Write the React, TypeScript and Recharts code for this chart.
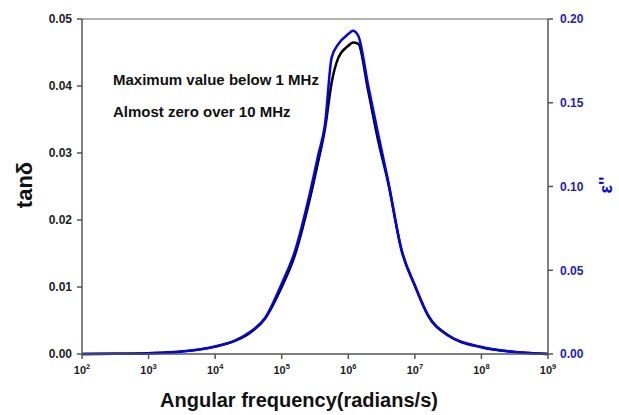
import { LineChart, Line, XAxis, YAxis, ReferenceLine } from "recharts";

// log10 of angular frequency (rad/s)
const logFreq = [
  2, 2.5, 3, 3.5, 4, 4.3, 4.5, 4.75, 5, 5.2, 5.4, 5.55, 5.65, 5.75, 5.85, 6,
  6.07, 6.15, 6.3, 6.45, 6.6, 6.8, 7, 7.2, 7.5, 8, 8.5, 9,
];
const tanDelta = [
  0, 0.00003, 0.00013, 0.00038, 0.0011, 0.002, 0.003, 0.0053, 0.01, 0.0148,
  0.0222, 0.0288, 0.0336, 0.0405, 0.0442, 0.046, 0.0465, 0.0463, 0.0392,
  0.0318, 0.0255, 0.0155, 0.0102, 0.0057, 0.0028, 0.001, 0.0003, 0,
];
const epsLoss = [
  0, 0.0001, 0.0005, 0.0015, 0.0045, 0.008, 0.0125, 0.0215, 0.042, 0.0615,
  0.092, 0.119, 0.137, 0.177, 0.185, 0.191, 0.193, 0.19, 0.16, 0.131, 0.103,
  0.062, 0.041, 0.023, 0.011, 0.0042, 0.0012, 0,
];
const xTicks = [2, 3, 4, 5, 6, 7, 8, 9].map((n) => Math.pow(10, n));
const leftTicks = [0, 0.01, 0.02, 0.03, 0.04, 0.05];
const rightTicks = [0, 0.05, 0.1, 0.15, 0.2];

const data = logFreq.map((l, i) => ({
  w: Math.pow(10, l),
  tan: tanDelta[i],
  eps: epsLoss[i],
}));

const FONT = "Arial, 'Liberation Sans', sans-serif";
const AXIS = "#555";
const BLUE = "#0000ff";

const PowerTick = ({ x, y, payload }: any) => {
  const n = Math.round(Math.log10(payload.value));
  return (
    <text x={x} y={y} dy={13} textAnchor="middle" fontFamily={FONT} fontWeight="bold" fontSize={11} fill="#222">
      <tspan>10</tspan>
      <tspan dy={-5} fontSize={7.5}>{n}</tspan>
    </text>
  );
};

export default function App() {
  return (
    <div style={{ position: "absolute", left: 0, top: 0, width: 619, height: 415, background: "#fff", fontFamily: FONT }}>
      <LineChart width={619} height={415} data={data} margin={{ top: 19, right: 0, bottom: 0, left: 0 }}>
        <XAxis
          dataKey="w"
          type="number"
          scale="log"
          domain={[100, 1e9]}
          ticks={xTicks}
          interval={0}
          allowDataOverflow
          height={61}
          tick={<PowerTick />}
          tickSize={5}
          tickMargin={2}
          axisLine={{ stroke: AXIS, strokeWidth: 1.5 }}
          tickLine={{ stroke: AXIS, strokeWidth: 1.5 }}
        />
        <YAxis
          yAxisId="left"
          domain={[0, 0.05]}
          ticks={leftTicks}
          interval={0}
          width={82}
          tickFormatter={(v: number) => v.toFixed(2)}
          tick={{ fontSize: 12, fontWeight: "bold", fill: "#222", fontFamily: FONT }}
          tickSize={5}
          tickMargin={5}
          axisLine={{ stroke: AXIS, strokeWidth: 1.5 }}
          tickLine={{ stroke: AXIS, strokeWidth: 1.5 }}
        />
        <YAxis
          yAxisId="right"
          orientation="right"
          domain={[0, 0.2]}
          ticks={rightTicks}
          interval={0}
          width={71}
          tickFormatter={(v: number) => v.toFixed(2)}
          tick={{ fontSize: 12, fontWeight: "bold", fill: "#1a1ad6", fontFamily: FONT }}
          tickSize={5}
          tickMargin={7}
          axisLine={{ stroke: AXIS, strokeWidth: 1.5 }}
          tickLine={{ stroke: AXIS, strokeWidth: 1.5 }}
        />
        <ReferenceLine yAxisId="left" y={0.05} stroke="#999" strokeWidth={1.5} />
        <Line
          yAxisId="left"
          dataKey="tan"
          type="monotone"
          stroke="#000"
          strokeWidth={2.5}
          dot={false}
          isAnimationActive={false}
        />
        <Line
          yAxisId="right"
          dataKey="eps"
          type="monotone"
          stroke={BLUE}
          strokeWidth={2.5}
          dot={false}
          isAnimationActive={false}
        />
      </LineChart>

      <div style={{ position: "absolute", left: 113, top: 71, fontSize: 15, fontWeight: "bold", color: "#111", whiteSpace: "nowrap" }}>
        Maximum value below 1 MHz
      </div>
      <div style={{ position: "absolute", left: 113, top: 103, fontSize: 15, fontWeight: "bold", color: "#111", whiteSpace: "nowrap" }}>
        Almost zero over 10 MHz
      </div>

      <div
        style={{
          position: "absolute",
          left: 25,
          top: 185,
          transform: "translate(-50%, -50%) rotate(-90deg)",
          fontSize: 22,
          fontWeight: "bold",
          color: "#111",
          whiteSpace: "nowrap",
        }}
      >
        tanδ
      </div>
      <div
        style={{
          position: "absolute",
          left: 606,
          top: 185,
          transform: "translate(-50%, -50%) rotate(-90deg)",
          fontSize: 18,
          fontWeight: "bold",
          color: BLUE,
          whiteSpace: "nowrap",
        }}
      >
        ε''
      </div>
      <div
        style={{
          position: "absolute",
          left: 299,
          top: 400,
          transform: "translate(-50%, -50%)",
          fontSize: 20,
          fontWeight: "bold",
          color: "#111",
          whiteSpace: "nowrap",
        }}
      >
        Angular frequency(radians/s)
      </div>
    </div>
  );
}
